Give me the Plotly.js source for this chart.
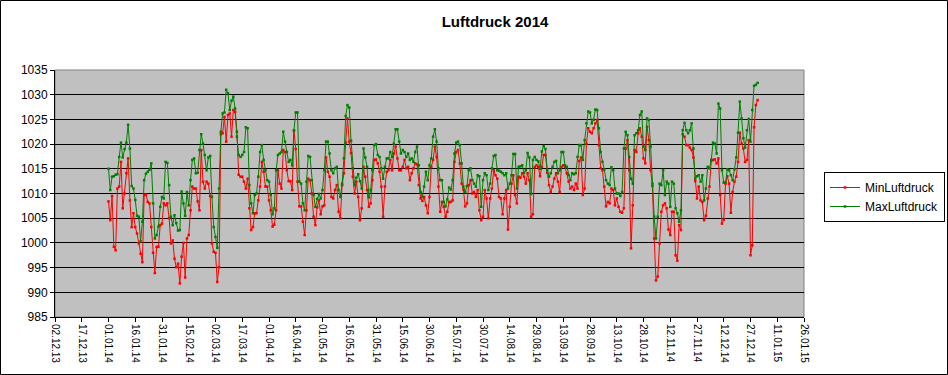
<!DOCTYPE html>
<html>
<head>
<meta charset="utf-8">
<script src="https://cdn.plot.ly/plotly-3.0.1.min.js"></script>
<style>
html,body{margin:0;padding:0;background:#fff;}
#chart{width:948px;height:375px;}
</style>
</head>
<body>
<div id="chart"></div>
<script>
var startDate = '2014-01-01';
var seriesNames = ['MinLuftdruck', 'MaxLuftdruck'];
var chartTitle = 'Luftdruck 2014';

var maxLuftdruck = [
1015.0,1010.7,1013.4,1013.5,1013.8,1013.9,1017.4,1020.3,1017.3,1019.0,
1020.3,1023.9,1019.1,1011.5,1011.0,1008.7,1005.5,1005.3,1000.3,1004.3,
1012.7,1014.0,1014.4,1014.8,1016.1,1008.0,1000.9,1001.6,1003.3,1007.3,
1009.3,1009.0,1016.4,1016.2,1011.7,1005.3,1003.6,1005.6,1004.0,1002.5,
1002.6,1010.4,1008.0,1005.5,1010.3,1007.6,1012.7,1016.8,1017.1,1014.1,
1014.2,1018.8,1022.0,1020.1,1017.8,1014.7,1017.3,1017.6,1009.3,1003.2,
1001.2,999.0,1011.0,1022.5,1026.2,1026.4,1031.0,1030.3,1026.9,1028.8,
1029.6,1027.2,1021.5,1017.8,1017.4,1017.8,1018.4,1023.4,1023.2,1011.7,
1008.0,1006.0,1009.7,1010.0,1013.4,1018.4,1019.8,1016.8,1014.7,1012.7,
1012.4,1009.7,1005.8,1007.0,1014.7,1017.8,1018.1,1018.4,1022.5,1020.5,
1018.4,1016.4,1016.8,1015.7,1022.8,1026.4,1026.4,1012.4,1012.0,1008.0,
1006.6,1012.4,1017.6,1017.4,1012.7,1009.7,1007.3,1008.9,1009.9,1009.0,
1010.7,1014.7,1020.5,1020.5,1018.1,1014.7,1014.1,1015.1,1015.4,1010.7,
1009.3,1012.0,1017.1,1025.7,1027.9,1027.4,1020.7,1015.1,1011.7,1013.2,
1013.9,1012.5,1011.0,1019.1,1017.3,1015.4,1009.2,1010.7,1014.7,1019.8,
1020.0,1017.8,1017.4,1015.1,1013.0,1015.4,1017.1,1017.1,1018.4,1017.4,
1020.1,1023.0,1023.0,1020.5,1018.1,1018.8,1018.4,1017.4,1018.1,1016.8,
1017.1,1016.4,1018.4,1019.5,1015.7,1010.3,1009.3,1011.4,1014.4,1012.7,
1015.7,1017.1,1021.5,1023.0,1020.5,1015.1,1012.7,1012.7,1008.3,1007.4,
1008.8,1011.2,1010.8,1012.7,1018.1,1020.3,1020.5,1019.8,1016.1,1011.4,
1010.3,1011.5,1014.7,1015.1,1012.7,1012.0,1011.4,1013.7,1013.5,1007.3,
1012.7,1014.1,1013.7,1010.7,1012.0,1015.1,1017.6,1017.8,1014.7,1014.6,
1014.4,1014.1,1013.7,1014.1,1011.0,1012.0,1013.7,1018.0,1018.0,1011.0,
1015.4,1015.5,1015.7,1014.1,1014.7,1018.2,1017.3,1009.9,1016.8,1017.4,
1016.8,1016.5,1015.0,1018.5,1019.6,1019.0,1014.7,1013.4,1014.1,1015.4,
1016.4,1016.6,1014.1,1014.7,1018.4,1018.4,1015.7,1015.4,1013.7,1012.7,
1014.1,1013.9,1014.1,1017.4,1019.8,1019.8,1016.8,1020.8,1024.2,1026.6,
1026.4,1024.2,1024.9,1027.0,1026.9,1023.2,1018.4,1016.4,1014.9,1012.7,
1012.0,1011.7,1015.3,1014.7,1011.0,1010.0,1010.0,1009.5,1010.3,1019.1,
1022.5,1021.8,1017.4,1013.0,1012.0,1021.8,1022.2,1022.8,1025.9,1026.6,
1019.5,1018.8,1025.2,1024.9,1019.5,1012.0,1005.3,1000.9,1005.3,1012.0,
1011.7,1014.7,1009.7,1012.4,1012.0,1007.3,1012.4,1012.0,1007.0,1006.0,
1004.3,1006.6,1022.8,1024.3,1022.8,1022.2,1022.8,1024.2,1019.1,1013.0,
1013.5,1013.7,1012.4,1013.7,1008.6,1011.0,1015.4,1015.1,1016.8,1020.3,
1020.1,1018.1,1028.2,1027.2,1014.7,1012.2,1012.2,1014.9,1014.7,1013.7,
1012.7,1014.9,1017.3,1022.3,1028.6,1025.2,1021.2,1019.3,1022.8,1025.1,
1020.5,1026.9,1031.8,1032.0,1032.4
];

var minLuftdruck = [
1008.4,1004.6,1009.5,999.2,998.5,1011.0,1011.4,1016.4,1007.0,1010.0,
1014.1,1017.1,1008.6,1003.2,1006.0,1003.2,1001.9,999.9,997.8,996.1,
1009.7,1009.8,1008.3,1008.0,1003.2,998.0,993.9,999.2,999.2,1003.6,
1003.9,1008.0,1007.6,1008.0,1005.0,999.9,1000.5,996.8,995.1,995.8,
991.8,997.2,1000.0,993.0,1000.9,1001.6,1006.6,1011.4,1011.0,1011.0,
1008.4,1006.6,1018.8,1012.4,1011.0,1012.4,1012.0,1009.5,999.9,998.2,
998.0,992.1,995.1,1022.0,1022.2,1025.5,1020.5,1025.9,1026.2,1021.5,
1026.9,1026.5,1022.5,1013.8,1013.4,1013.4,1012.4,1011.0,1013.0,1007.0,
1002.6,1003.2,1006.0,1006.0,1008.6,1011.4,1016.4,1014.4,1011.4,1011.4,
1008.6,1006.6,1003.3,1003.7,1006.6,1014.7,1012.0,1011.0,1018.8,1018.4,
1014.7,1012.5,1012.5,1010.7,1022.7,1019.0,1012.4,1007.4,1007.4,1004.3,
1001.6,1006.6,1013.0,1012.7,1010.0,1005.3,1003.6,1007.2,1008.6,1005.8,
1007.4,1007.6,1017.3,1014.4,1013.4,1009.3,1009.0,1010.7,1011.7,1006.3,
1005.0,1011.7,1014.1,1020.3,1025.2,1020.5,1018.2,1013.4,1010.0,1012.4,
1009.3,1004.6,1007.0,1015.4,1013.4,1010.7,1007.3,1008.0,1012.7,1016.8,
1016.9,1016.1,1014.4,1011.4,1005.3,1011.4,1014.4,1014.7,1016.8,1014.7,
1018.1,1019.5,1017.1,1014.7,1014.7,1015.4,1016.8,1015.1,1015.4,1012.7,
1014.1,1015.1,1016.1,1015.9,1011.7,1009.0,1008.5,1009.3,1007.6,1006.0,
1009.3,1015.4,1016.8,1019.5,1017.4,1011.4,1006.3,1008.3,1007.3,1005.3,
1006.3,1008.3,1008.3,1008.6,1016.4,1018.4,1018.8,1016.1,1012.0,1010.8,
1007.4,1008.0,1011.7,1012.7,1010.0,1010.3,1009.3,1010.7,1006.6,1004.6,
1005.3,1010.7,1009.0,1005.0,1009.0,1011.0,1014.7,1013.7,1013.0,1009.3,
1009.0,1005.8,1009.0,1010.7,1002.7,1007.3,1012.0,1013.7,1009.7,1008.0,
1013.4,1013.2,1014.1,1013.4,1012.0,1014.1,1012.7,1005.3,1005.8,1015.4,
1015.7,1015.4,1013.5,1015.4,1017.8,1017.8,1014.2,1011.7,1010.3,1011.4,
1013.0,1014.1,1012.4,1010.3,1015.4,1015.7,1015.4,1014.1,1012.4,1011.0,
1011.4,1010.7,1012.0,1011.0,1016.6,1017.3,1009.7,1011.0,1020.1,1023.2,
1022.5,1022.2,1023.2,1024.2,1024.9,1019.8,1015.1,1014.7,1011.4,1007.4,
1008.3,1008.0,1011.0,1010.7,1007.6,1009.0,1007.3,1006.3,1006.1,1007.0,
1019.1,1020.8,1014.7,998.9,1007.6,1018.8,1018.4,1022.2,1023.2,1021.5,
1017.1,1016.1,1023.5,1020.8,1014.7,1011.5,1000.9,992.4,993.2,999.9,
1006.3,1007.6,1008.0,1007.0,1002.7,1001.6,1006.3,1006.3,997.5,996.4,
1003.6,1002.6,1022.0,1021.5,1019.8,1019.8,1019.3,1018.8,1017.3,1012.5,
1009.0,1011.4,1008.6,1008.3,1004.6,1005.5,1009.0,1011.4,1016.6,1016.8,
1016.9,1016.1,1017.1,1009.7,1003.9,1004.7,1012.0,1013.5,1012.0,1006.1,
1010.3,1012.4,1013.4,1016.4,1022.3,1020.1,1019.1,1016.4,1016.8,1020.8,
997.5,999.5,1023.4,1027.9,1028.9
];

// one date per reading, consecutive days from startDate
var dates = [];
(function(){
  var p = startDate.split('-').map(Number);
  var t0 = Date.UTC(p[0], p[1]-1, p[2]);
  for (var i = 0; i < maxLuftdruck.length; i++) {
    var d = new Date(t0 + i*86400000);
    dates.push(d.toISOString().slice(0,10));
  }
})();

var font = 'Liberation Sans, Arial, sans-serif';

var traces = [
  {x: dates, y: minLuftdruck, name: seriesNames[0], type: 'scatter', mode: 'lines+markers',
   line: {color: '#FF0000', width: 1}, marker: {color: '#FF0000', size: 2.5, symbol: 'square'},
   hoverinfo: 'skip'},
  {x: dates, y: maxLuftdruck, name: seriesNames[1], type: 'scatter', mode: 'lines+markers',
   line: {color: '#008000', width: 1}, marker: {color: '#008000', size: 2.5, symbol: 'square'},
   hoverinfo: 'skip'}
];

var layout = {
  width: 948, height: 375,
  margin: {l: 55, r: 144, t: 70, b: 58, pad: 0, autoexpand: false},
  paper_bgcolor: '#FFFFFF',
  plot_bgcolor: '#C0C0C0',
  font: {family: font, color: '#000', size: 12},
  title: {text: '<b>' + chartTitle + '</b>', font: {family: font, size: 15, color: '#000'},
          x: 495/948, xref: 'container', xanchor: 'center', y: 1 - 22/375, yref: 'container', yanchor: 'middle'},
  showlegend: true,
  legend: {xref: 'container', yref: 'container', x: 824/948, xanchor: 'left', y: 1 - 172/375, yanchor: 'top',
           bgcolor: '#FFFFFF', bordercolor: '#000', borderwidth: 1,
           font: {family: font, size: 12, color: '#000'}, tracegroupgap: 4, itemwidth: 30},
  xaxis: {
    type: 'date',
    range: ['2013-12-02', '2015-01-26'],
    tick0: '2013-12-02', dtick: 15*86400000,
    tickformat: '%d.%m.%y', tickangle: 90,
    tickfont: {family: font, size: 10, color: '#000'},
    ticks: 'outside', ticklen: 4, tickcolor: '#000', tickwidth: 1,
    showgrid: false, zeroline: false, automargin: false,
    showline: true, linecolor: '#000', linewidth: 1,
    fixedrange: true
  },
  yaxis: {
    range: [985, 1035], dtick: 5, tick0: 985,
    tickfont: {family: font, size: 12, color: '#000'},
    ticks: 'outside', ticklen: 4, tickcolor: '#000', tickwidth: 1,
    showgrid: true, gridcolor: '#000', gridwidth: 1,
    zeroline: false, automargin: false,
    showline: true, linecolor: '#000', linewidth: 1,
    fixedrange: true
  },
  shapes: [
    {type: 'rect', xref: 'paper', yref: 'paper', x0: 0, x1: 1, y0: 0, y1: 1,
     line: {color: '#808080', width: 1}, layer: 'below'},
    {type: 'rect', xref: 'paper', yref: 'paper',
     x0: (0.5-55)/749, x1: (947.5-55)/749, y0: (317-374.5)/247, y1: (317-0.5)/247,
     line: {color: '#000', width: 1}, fillcolor: 'rgba(0,0,0,0)'}
  ]
};

Plotly.newPlot('chart', traces, layout, {displayModeBar: false, staticPlot: true});
</script>
</body>
</html>
